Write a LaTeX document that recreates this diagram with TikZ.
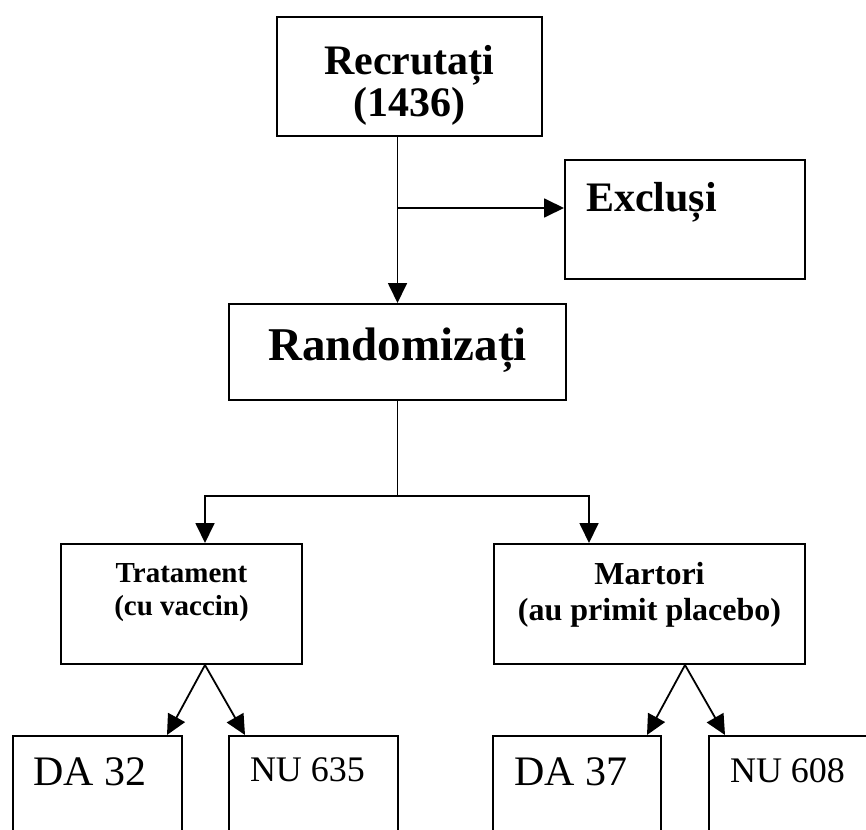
\documentclass[tikz,border=0pt]{standalone}
\usepackage{fontspec}
\setmainfont{Liberation Serif}
\usetikzlibrary{arrows.meta,calc}

% two stacked lines, baseline on the first one
\newcommand\twolines[2]{\begin{tabular}[t]{@{}c@{}}#1\\#2\end{tabular}}

\begin{document}
\begin{tikzpicture}[
  x=1pt,y=-1pt,
  >={Triangle[length=20pt,width=19pt]},
  box/.style    ={draw,line width=2pt,inner sep=0pt},
  flow/.style   ={->,line width=1.8pt},
  link/.style   ={line width=1.8pt},
  titleL/.style ={font=\bfseries\fontsize{42pt}{40pt}\selectfont},
  titleXL/.style={font=\bfseries\fontsize{47pt}{50pt}\selectfont},
  armT/.style   ={font=\bfseries\fontsize{29pt}{33pt}\selectfont},
  armM/.style   ={font=\bfseries\fontsize{32pt}{36pt}\selectfont},
  countL/.style ={font=\fontsize{42pt}{44pt}\selectfont},
  countS/.style ={font=\fontsize{36pt}{40pt}\selectfont},
]
\useasboundingbox[fill=white] (0,0) rectangle (866,829);
\clip (0,0) rectangle (866,829);

% =====================================================================
% TOP: RECRUITED -> EXCLUDED / RANDOMISED
% =====================================================================
\node[box,titleL,minimum width=265pt,text height=58pt,text depth=61pt]
  (rec) at (409.5,76.5) {\twolines{Recrutați}{(1436)}};
\node[box,titleL,minimum width=240pt,text height=51pt,text depth=68pt]
  (excl) at (685,219.5) {\makebox[198pt][l]{Excluși}};
\node[box,titleXL,minimum width=337pt,text height=56pt,text depth=40pt]
  (rand) at (397.5,352) {Randomizați};

\coordinate (split) at (397.5,208);
\draw[flow] (rec.south -| rand.north) -- (rand.north);
\draw[flow] (split) -- (split -| excl.west);

% =====================================================================
% MIDDLE: THE TWO ARMS
% =====================================================================
\node[box,armT,minimum width=241pt,text height=38pt,text depth=82pt]
  (trat) at (181.5,604) {\twolines{Tratament}{(cu vaccin)}};
\node[box,armM,minimum width=311pt,text height=40pt,text depth=80pt]
  (mart) at (649.5,604) {\twolines{Martori}{(au primit placebo)}};

\coordinate (fork) at (397.5,496);
\draw[link] (rand.south) -- (fork);
\draw[flow] (fork) -| ($(trat.north)+(23.5,0)$);
\draw[flow] (fork) -| ($(mart.north)+(-60.5,0)$);

% =====================================================================
% BOTTOM: OUTCOMES PER ARM (boxes run past the lower edge)
% =====================================================================
\node[box,countL,minimum width=169pt,text height=49pt,text depth=55pt]
  (da32) at (97.5,788) {\makebox[129pt][l]{DA 32}};
\node[box,countS,minimum width=169pt,text height=45pt,text depth=59pt]
  (nu635) at (313.5,788) {\makebox[127pt][l]{NU 635}};
\node[box,countL,minimum width=168pt,text height=49pt,text depth=55pt]
  (da37) at (577,788) {\makebox[126pt][l]{DA 37}};
\node[box,countS,minimum width=169pt,text height=46pt,text depth=58pt]
  (nu608) at (793.5,788) {\makebox[127pt][l]{NU 608}};

\coordinate (tratOut) at ($(trat.south)+(23.5,0)$);
\coordinate (martOut) at ($(mart.south)+(35.5,0)$);
\draw[flow] (tratOut) -- ($(da32.north east)+(-16,0)$);
\draw[flow] (tratOut) -- ($(nu635.north west)+(17,0)$);
\draw[flow] (martOut) -- ($(da37.north east)+(-15,0)$);
\draw[flow] (martOut) -- ($(nu608.north west)+(17,0)$);

\end{tikzpicture}
\end{document}
